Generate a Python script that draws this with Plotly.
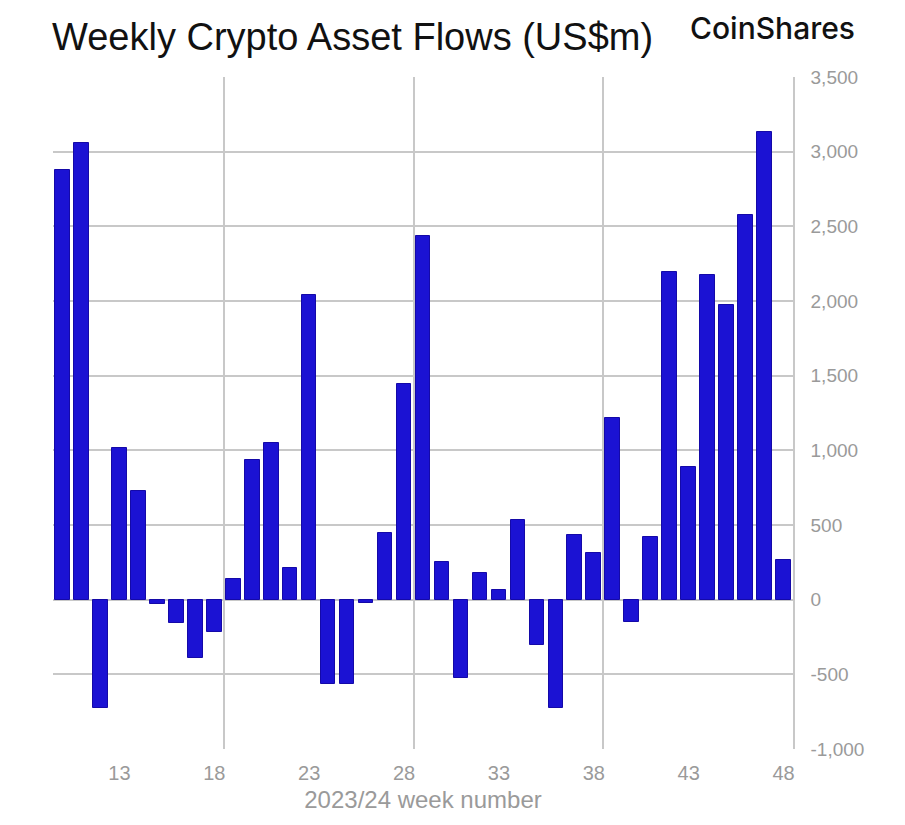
import plotly.graph_objects as go

weeks = list(range(10, 49))
flows = [2880, 3060, -728, 1017, 725, -32, -155, -393, -219, 138,
         933, 1051, 210, 2042, -567, -563, -25, 448, 1442, 2435,
         252, -525, 178, 62, 531, -304, -728, 433, 314, 1218,
         -148, 419, 2194, 890, 2172, 1975, 2574, 3134, 263]
x_ticks = [13, 18, 23, 28, 33, 38, 43, 48]
y_ticks = list(range(-1000, 3501, 500))
y_tick_text = ["-1,000", "-500", "0", "500", "1,000", "1,500", "2,000", "2,500", "3,000", "3,500"]

grid = "#c8c8c8"
tickc = "#9a9a9a"

W, H = 897, 817  # page body has an 8px margin
fig = go.Figure()
fig.add_trace(go.Bar(
    x=weeks, y=flows, width=0.77,
    marker=dict(color="#1B12D3", line=dict(color="#1409A8", width=1)),
    hoverinfo="x+y",
))

fig.update_layout(
    width=W, height=H,
    margin=dict(l=45, r=112, t=69, b=76, autoexpand=False),
    paper_bgcolor="white", plot_bgcolor="white",
    showlegend=False,
    font=dict(family="Liberation Sans, Arial, sans-serif", color=tickc),
    title=dict(text="Weekly Crypto Asset Flows (US$m)",
               font=dict(family="Liberation Sans, Arial, sans-serif", size=38, color="#111111"),
               xref="container", yref="container", x=44/W, xanchor="left",
               y=1-29/H, yanchor="middle"),
    annotations=[dict(text="CoinShares", xref="paper", yref="paper",
                      x=1.0 + (857-793)/740, xanchor="right",
                      y=1 + (77-28)/672, yanchor="middle", showarrow=False,
                      font=dict(family="Inter, Liberation Sans, sans-serif", size=30,
                                color="#111111", weight=500))],
    bargap=0,
)
fig.update_xaxes(
    range=[9.5, 48.5], tickmode="array", tickvals=x_ticks,
    ticks="", showgrid=False, zeroline=False,
    showline=False, ticklabelstandoff=10,
    tickfont=dict(size=20, color=tickc),
    minor=dict(tick0=8.5, dtick=10, showgrid=True, gridcolor=grid, gridwidth=1.5, ticks=""),
    title=dict(text="2023/24 week number", font=dict(size=24, color=tickc), standoff=8),
)
fig.update_yaxes(
    range=[-1000, 3500], side="right", tickmode="array", tickvals=y_ticks,
    ticktext=y_tick_text,
    showgrid=True, gridcolor=grid, gridwidth=1.5,
    zeroline=False, showline=True, linecolor=grid, linewidth=1.5, mirror=False,
    ticks="", ticklabelstandoff=12,
    tickfont=dict(size=19, color=tickc),
)

fig.write_html("out.html")
